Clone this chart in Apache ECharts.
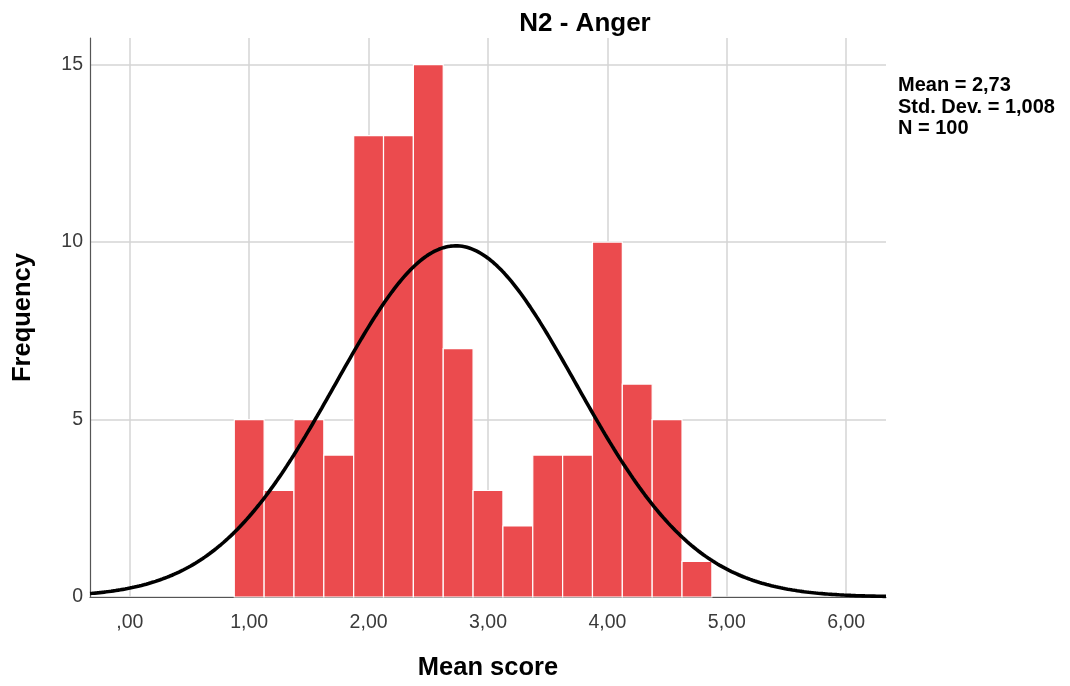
<!DOCTYPE html>
<html><head><meta charset="utf-8">
<script src="https://cdn.jsdelivr.net/npm/echarts@6/dist/echarts.min.js"></script>
<style>html,body{margin:0;padding:0;background:#fff}#c{width:1070px;height:686px}</style>
</head><body><div id="c"></div>
<script>
const BIN_CENTERS = [1.00, 1.25, 1.50, 1.75, 2.00, 2.25, 2.50, 2.75, 3.00, 3.25, 3.50, 3.75, 4.00, 4.25, 4.50, 4.75];
const COUNTS      = [5, 3, 5, 4, 13, 13, 15, 7, 3, 2, 4, 4, 10, 6, 5, 1];
const BIN_WIDTH = 0.25;
const X_TICKS = [0, 1, 2, 3, 4, 5, 6];
const Y_TICKS = [0, 5, 10, 15];
const MEAN = 2.73, SD = 1.008, N = 100;
const STATS_LINES = ['Mean = 2,73', 'Std. Dev. = 1,008', 'N = 100'];
const X_MIN = -1/3, X_MAX = 19/3, Y_MAX = 15.75;

// fitted normal curve (as in the original SPSS histogram), scaled to counts per bin
const curve = [];
for (let i = 0; i <= 340; i++) {
  const x = X_MIN + (X_MAX - X_MIN) * i / 340;
  const z = (x - MEAN) / SD;
  curve.push([x, N * BIN_WIDTH / (SD * Math.sqrt(2 * Math.PI)) * Math.exp(-0.5 * z * z)]);
}
const bars = BIN_CENTERS.map((c, i) => [c, COUNTS[i]]);

const chart = echarts.init(document.getElementById('c'), null, {renderer: 'canvas'});
const FONT = 'Liberation Sans, Arial, sans-serif';
chart.setOption({
  animation: false,
  backgroundColor: '#ffffff',
  title: [
    {text: 'N2 - Anger', left: 580, top: 6, textAlign: 'center',
     textStyle: {fontFamily: FONT, fontWeight: 'bold', fontSize: 26, color: '#000'}},
    {text: STATS_LINES.join('\n'), left: 893, top: 70,
     textStyle: {fontFamily: FONT, fontWeight: 'bold', fontSize: 20, lineHeight: 21.5, color: '#000'}}
  ],
  grid: {left: 90, right: 184, top: 38, bottom: 89, containLabel: false},
  xAxis: {
    type: 'value', min: X_MIN, max: X_MAX,
    name: 'Mean score', nameLocation: 'middle', nameGap: 58,
    nameTextStyle: {fontFamily: FONT, fontWeight: 'bold', fontSize: 25.5, color: '#000'},
    axisLine: {show: true, onZero: false, lineStyle: {color: '#555', width: 1.2}},
    axisTick: {show: false, customValues: X_TICKS},
    axisLabel: {customValues: X_TICKS, margin: 16, fontFamily: FONT, fontSize: 19.5, color: '#3a3a3a',
      formatter: v => v === 0 ? ',00' : v.toFixed(2).replace('.', ',')},
    splitLine: {show: true, lineStyle: {color: '#d4d4d4', width: 1.5}}
  },
  yAxis: {
    type: 'value', min: 0, max: Y_MAX,
    name: 'Frequency', nameLocation: 'middle', nameGap: 54,
    nameTextStyle: {fontFamily: FONT, fontWeight: 'bold', fontSize: 25.5, color: '#000'},
    axisLine: {show: true, onZero: false, lineStyle: {color: '#555', width: 1.2}},
    axisTick: {show: false, customValues: Y_TICKS},
    axisLabel: {customValues: Y_TICKS, margin: 7, fontFamily: FONT, fontSize: 19.5, color: '#3a3a3a'},
    splitLine: {show: true, lineStyle: {color: '#d4d4d4', width: 1.5}}
  },
  series: [
    {
      type: 'custom', data: bars, z: 2,
      renderItem: (params, api) => {
        const c = api.value(0), v = api.value(1);
        const p0 = api.coord([c - BIN_WIDTH / 2, v]);
        const p1 = api.coord([c + BIN_WIDTH / 2, 0]);
        return {type: 'rect', shape: {x: p0[0], y: p0[1], width: p1[0] - p0[0], height: p1[1] - p0[1]},
          style: {fill: '#eb4b4e', stroke: '#ffffff', lineWidth: 1.2}};
      }
    },
    {
      type: 'line', data: curve, showSymbol: false, smooth: false, z: 3, clip: true,
      lineStyle: {color: '#000', width: 3.6}
    }
  ]
});
</script></body></html>
